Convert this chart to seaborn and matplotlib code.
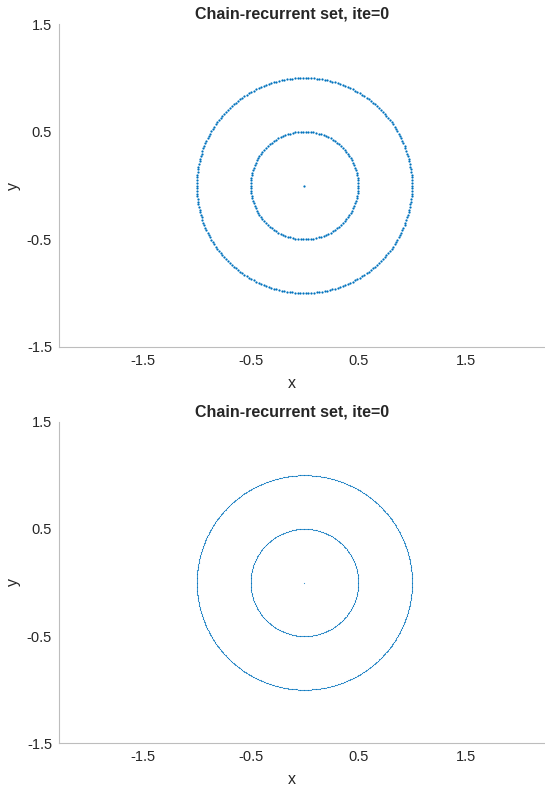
import numpy as np
import pandas as pd
import matplotlib
matplotlib.use("Agg")
import matplotlib.pyplot as plt
import seaborn as sns

sns.set_style("white")
plt.rcParams['font.family'] = ['Liberation Sans', 'DejaVu Sans']

# Data: the chain-recurrent set = origin + circles r=0.5 and r=1
radii = [0.0, 0.5, 1.0]
points_top = [1, 130, 250]      # sampled points per component (upper panel)
points_bottom = [1, 420, 840]   # denser sampling (lower panel)
titles = ["Chain-recurrent set, ite=0", "Chain-recurrent set, ite=0"]
tick_vals = [-1.5, -0.5, 0.5, 1.5]
tick_labels = ["-1.5", "-0.5", "0.5", "1.5"]


def circle_frame(counts):
    xs, ys = [], []
    for r, n in zip(radii, counts):
        t = np.linspace(0, 2 * np.pi, n, endpoint=False)
        xs.append(r * np.cos(t))
        ys.append(r * np.sin(t))
    return pd.DataFrame({"x": np.concatenate(xs), "y": np.concatenate(ys)})


fig = plt.figure(figsize=(5.45, 7.87), dpi=100)
W, H = 545, 787
left = 59 / W
width = (545 - 59) / W
panels = [
    (24, 347, points_top, 2.6, 1.0),
    (421.7, 743.3, points_bottom, 0.7, 0.8),
]
blue = "#0072BD"
gray = "#bdbdbd"
for (top_px, bot_px, counts, s, alpha), title in zip(panels, titles):
    ax = fig.add_axes([left, 1 - bot_px / H, width, (bot_px - top_px) / H])
    df = circle_frame(counts)
    sns.scatterplot(data=df, x="x", y="y", ax=ax, s=s, color=blue,
                    linewidth=0, alpha=alpha, legend=False)
    ax.set_xlim(-2.28, 2.235)
    ax.set_ylim(-1.5, 1.5)
    ax.set_xticks(tick_vals)
    ax.set_xticklabels(tick_labels)
    ax.set_yticks(tick_vals)
    ax.set_yticklabels(tick_labels)
    for side in ["top", "right"]:
        ax.spines[side].set_visible(False)
    for side in ["left", "bottom"]:
        ax.spines[side].set_color(gray)
        ax.spines[side].set_linewidth(0.8)
    ax.tick_params(direction="in", length=3, width=0.6, color=gray,
                   labelsize=10.5, labelcolor="#262626", pad=5)
    ax.set_xlabel("x", fontsize=11.5, color="#262626")
    ax.set_ylabel("y", fontsize=11.5, color="#262626")
    ax.xaxis.set_label_coords(0.48, -0.09)
    ax.yaxis.set_label_coords(-0.078, 0.5)
    ax.set_title(title, fontsize=11.5, fontweight="bold", x=0.48, pad=4)

fig.savefig("out.png", dpi=100)
